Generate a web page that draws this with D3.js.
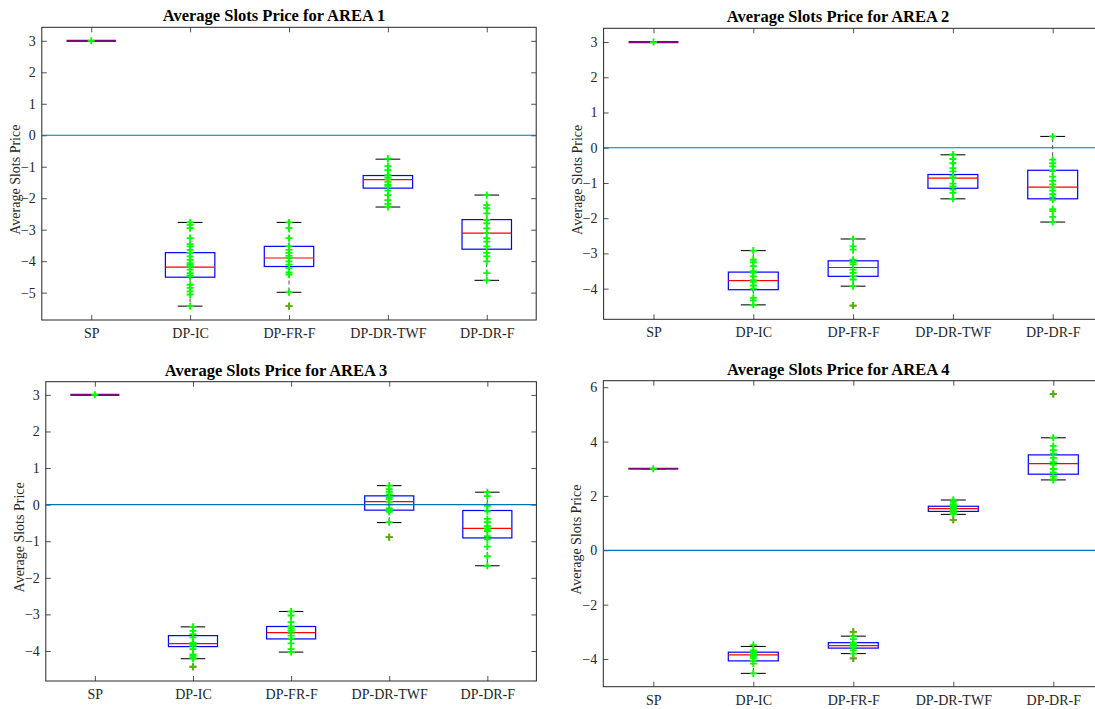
<!DOCTYPE html>
<html>
<head>
<meta charset="utf-8">
<script src="https://cdn.jsdelivr.net/npm/d3@7"></script>
<style>
  body { margin: 0; background: #fff; overflow: hidden; }
  text { font-family: "Liberation Serif", "Times New Roman", serif; }
</style>
</head>
<body>
<div id="chart"></div>
<script>
// Categories on the x axis (same for every area)
var groups = ["SP", "DP-IC", "DP-FR-F", "DP-DR-TWF", "DP-DR-F"];

// Box statistics per group: [lower whisker, q1, median, q3, upper whisker]
var area1Stats = [[3, 3, 3, 3, 3], [-5.43, -4.51, -4.19, -3.73, -2.77], [-4.99, -4.17, -3.90, -3.53, -2.77], [-2.28, -1.68, -1.41, -1.28, -0.76], [-4.61, -3.62, -3.11, -2.68, -1.90]];
var area2Stats = [[3, 3, 3, 3, 3], [-4.46, -4.03, -3.77, -3.53, -2.92], [-3.93, -3.65, -3.40, -3.21, -2.59], [-1.45, -1.15, -0.86, -0.76, -0.20], [-2.11, -1.45, -1.12, -0.64, 0.32]];
var area3Stats = [[3, 3, 3, 3, 3], [-4.21, -3.88, -3.80, -3.58, -3.34], [-4.03, -3.67, -3.50, -3.33, -2.92], [-0.49, -0.15, 0.08, 0.24, 0.52], [-1.67, -0.91, -0.65, -0.16, 0.34]];
var area4Stats = [[3, 3, 3, 3, 3], [-4.53, -4.07, -3.85, -3.75, -3.54], [-3.80, -3.60, -3.51, -3.40, -3.16], [1.32, 1.43, 1.53, 1.62, 1.85], [2.59, 2.80, 3.19, 3.51, 4.14]];

// Sample values (green markers) per group
var area1Values = [
  [3],
  [-2.77, -2.85, -2.95, -3.27, -3.46, -3.53, -3.64, -3.74, -3.85, -3.96, -4.06, -4.12, -4.17, -4.27, -4.38, -4.45, -4.48, -4.75, -4.85, -4.96, -5.06, -5.43],
  [-2.77, -2.95, -3.27, -3.53, -3.64, -3.74, -3.83, -3.90, -4.01, -4.11, -4.22, -4.36, -4.43, -4.99],
  [-0.74, -0.98, -1.11, -1.27, -1.34, -1.40, -1.48, -1.58, -1.65, -1.76, -1.90, -2.06, -2.18, -2.28],
  [-1.90, -2.22, -2.32, -2.48, -2.69, -2.80, -2.96, -3.11, -3.27, -3.38, -3.53, -3.74, -3.85, -4.01, -4.38, -4.61]
];
var area2Values = [
  [3],
  [-2.92, -3.18, -3.25, -3.36, -3.50, -3.55, -3.65, -3.76, -3.81, -3.91, -4.00, -4.26, -4.33, -4.46],
  [-2.59, -2.80, -2.89, -3.18, -3.25, -3.31, -3.46, -3.55, -3.65, -3.74, -3.93],
  [-0.19, -0.32, -0.44, -0.58, -0.67, -0.79, -0.86, -1.02, -1.10, -1.19, -1.28, -1.45],
  [0.32, -0.34, -0.44, -0.53, -0.66, -0.82, -0.94, -1.04, -1.13, -1.22, -1.32, -1.41, -1.48, -1.74, -1.80, -1.96, -2.11]
];
var area3Values = [
  [3],
  [-3.34, -3.45, -3.54, -3.63, -3.77, -3.81, -3.86, -3.95, -4.09, -4.13, -4.18, -4.21],
  [-2.92, -3.03, -3.21, -3.33, -3.39, -3.45, -3.51, -3.58, -3.66, -3.79, -3.95, -4.03],
  [0.52, 0.42, 0.35, 0.28, 0.20, 0.15, 0.08, 0.00, -0.10, -0.17, -0.20, -0.48],
  [0.34, 0.23, -0.03, -0.18, -0.39, -0.48, -0.59, -0.66, -0.72, -0.86, -0.95, -1.15, -1.41, -1.67]
];
var area4Values = [
  [3],
  [-3.49, -3.68, -3.76, -3.82, -3.89, -3.97, -4.07, -4.17, -4.53],
  [-3.16, -3.27, -3.40, -3.46, -3.52, -3.58, -3.68, -3.80],
  [1.86, 1.78, 1.70, 1.62, 1.56, 1.50, 1.45, 1.40, 1.33],
  [4.14, 3.84, 3.68, 3.56, 3.40, 3.24, 3.15, 2.99, 2.87, 2.72, 2.62, 2.59]
];

// Outliers per group
var area1Outliers = [[], [], [-5.43], [], []];
var area2Outliers = [[], [], [-4.48], [], []];
var area3Outliers = [[], [-4.43], [], [-0.89], []];
var area4Outliers = [[], [], [-3.00, -3.98], [1.12], [5.75]];

// y tick labels and y limits
var area1Ticks = [-5, -4, -3, -2, -1, 0, 1, 2, 3];
var area2Ticks = [-4, -3, -2, -1, 0, 1, 2, 3];
var area3Ticks = [-4, -3, -2, -1, 0, 1, 2, 3];
var area4Ticks = [-4, -2, 0, 2, 4, 6];
var area1Limits = [-5.87, 3.43];
var area2Limits = [-4.87, 3.39];
var area3Limits = [-4.82, 3.36];
var area4Limits = [-5.02, 6.24];

var svgWidth = 1095;
var svgHeight = 709;

var svg = d3.select("#chart")
  .append("svg")
  .attr("width", svgWidth)
  .attr("height", svgHeight);

// axes frames (pixel boxes of each subplot)
var panels = [
  { title: "Average Slots Price for AREA 1", stats: area1Stats, values: area1Values, outliers: area1Outliers, ticks: area1Ticks, limits: area1Limits, left: 41.8, right: 536.2, top: 27.3, bottom: 320 },
  { title: "Average Slots Price for AREA 2", stats: area2Stats, values: area2Values, outliers: area2Outliers, ticks: area2Ticks, limits: area2Limits, left: 603.6, right: 1102.6, top: 28.3, bottom: 319.3 },
  { title: "Average Slots Price for AREA 3", stats: area3Stats, values: area3Values, outliers: area3Outliers, ticks: area3Ticks, limits: area3Limits, left: 45.8, right: 536.4, top: 381.7, bottom: 681 },
  { title: "Average Slots Price for AREA 4", stats: area4Stats, values: area4Values, outliers: area4Outliers, ticks: area4Ticks, limits: area4Limits, left: 603.3, right: 1103.3, top: 380.7, bottom: 686.7 }
];

var axisColor = "#262626";
var plusPath = "M-3.5,0H3.5M0,-3.5V3.5";

function drawPanel(p) {
  var g = svg.append("g");

  var x = d3.scalePoint()
    .domain(groups)
    .range([p.left, p.right])
    .padding(0.5);
  var y = d3.scaleLinear()
    .domain(p.limits)
    .range([p.bottom, p.top]);

  var boxW = x.step() * 0.5;
  var capW = boxW * 0.5;

  // axes: ticks point inward on all four sides
  g.append("g")
    .attr("transform", `translate(${p.left},0)`)
    .call(d3.axisLeft(y).tickValues(p.ticks).tickSizeInner(-5).tickSizeOuter(0).tickPadding(6));
  g.append("g")
    .attr("transform", `translate(${p.right},0)`)
    .call(d3.axisRight(y).tickValues(p.ticks).tickSizeInner(-5).tickSizeOuter(0).tickFormat(""));
  g.append("g")
    .attr("transform", `translate(0,${p.bottom})`)
    .call(d3.axisBottom(x).tickSizeInner(-5).tickSizeOuter(0).tickPadding(8));
  g.append("g")
    .attr("transform", `translate(0,${p.top})`)
    .call(d3.axisTop(x).tickSizeInner(-5).tickSizeOuter(0).tickFormat(""));

  g.selectAll(".domain").remove();
  g.selectAll(".tick line").attr("stroke", axisColor).attr("stroke-width", 0.8);
  g.selectAll(".tick text")
    .attr("fill", axisColor)
    .attr("font-family", null)
    .style("font-size", "14px")
    .style("font-family", "'Liberation Serif', serif");

  // axes box
  g.append("rect")
    .attr("x", p.left)
    .attr("y", p.top)
    .attr("width", p.right - p.left)
    .attr("height", p.bottom - p.top)
    .attr("fill", "none")
    .attr("stroke", axisColor)
    .attr("stroke-width", 1);

  var boxes = g.selectAll(".box")
    .data(p.stats)
    .enter()
    .append("g")
    .attr("transform", (d, i) => `translate(${x(groups[i])},0)`);

  // dashed whiskers
  boxes.append("line")
    .attr("x1", 0).attr("x2", 0)
    .attr("y1", d => y(d[3])).attr("y2", d => y(d[4]))
    .attr("stroke", "#000").attr("stroke-width", 0.7).attr("stroke-dasharray", "4,3");
  boxes.append("line")
    .attr("x1", 0).attr("x2", 0)
    .attr("y1", d => y(d[1])).attr("y2", d => y(d[0]))
    .attr("stroke", "#000").attr("stroke-width", 0.7).attr("stroke-dasharray", "4,3");

  // whisker caps
  boxes.append("line")
    .attr("x1", -capW / 2).attr("x2", capW / 2)
    .attr("y1", d => y(d[4])).attr("y2", d => y(d[4]))
    .attr("stroke", "#111").attr("stroke-width", 1.1);
  boxes.append("line")
    .attr("x1", -capW / 2).attr("x2", capW / 2)
    .attr("y1", d => y(d[0])).attr("y2", d => y(d[0]))
    .attr("stroke", "#111").attr("stroke-width", 1.1);

  // box
  boxes.append("rect")
    .attr("x", -boxW / 2)
    .attr("y", d => y(d[3]))
    .attr("width", boxW)
    .attr("height", d => y(d[1]) - y(d[3]))
    .attr("fill", "none")
    .attr("stroke", "#0000ff")
    .attr("stroke-width", 1.2);

  // median (collapsed box: blue and red blend to purple)
  boxes.append("line")
    .attr("x1", -boxW / 2).attr("x2", boxW / 2)
    .attr("y1", d => y(d[2])).attr("y2", d => y(d[2]))
    .attr("stroke", d => (d[3] - d[1] < 1e-6) ? "#7a0a7a" : "#ff0000")
    .attr("stroke-width", d => (d[3] - d[1] < 1e-6) ? 2.2 : 1.2);

  // outliers: red plus under the green sample marker
  var outPts = [];
  p.outliers.forEach(function (list, i) {
    list.forEach(function (v) { outPts.push({ g: groups[i], v: v }); });
  });
  g.selectAll(".outRed")
    .data(outPts)
    .enter()
    .append("path")
    .attr("d", plusPath)
    .attr("transform", d => `translate(${x(d.g)},${y(d.v)})`)
    .attr("stroke", "#ff0000")
    .attr("stroke-width", 1.8)
    .attr("fill", "none");
  g.selectAll(".outGreen")
    .data(outPts)
    .enter()
    .append("path")
    .attr("d", plusPath)
    .attr("transform", d => `translate(${x(d.g)},${y(d.v)})`)
    .attr("stroke", "#00ff00")
    .attr("stroke-opacity", 0.75)
    .attr("stroke-width", 1.8)
    .attr("fill", "none");

  // sample markers
  var pts = [];
  p.values.forEach(function (list, i) {
    list.forEach(function (v) { pts.push({ g: groups[i], v: v }); });
  });
  g.selectAll(".pt")
    .data(pts)
    .enter()
    .append("path")
    .attr("d", plusPath)
    .attr("transform", d => `translate(${x(d.g)},${y(d.v)})`)
    .attr("stroke", "#00ff00")
    .attr("stroke-width", 1.8)
    .attr("fill", "none");

  // zero reference line
  g.append("line")
    .attr("x1", p.left).attr("x2", p.right)
    .attr("y1", y(0)).attr("y2", y(0))
    .attr("stroke", "#0072BD")
    .attr("stroke-width", 1.2);

  // title
  g.append("text")
    .attr("x", (p.left + p.right) / 2 - 15)
    .attr("y", p.top - 6)
    .attr("text-anchor", "middle")
    .style("font-size", "16.5px")
    .style("font-weight", "bold")
    .attr("fill", "#000")
    .text(p.title);

  // y label
  g.append("text")
    .attr("transform", `translate(${p.left - 22},${(p.top + p.bottom) / 2 + 6}) rotate(-90)`)
    .attr("text-anchor", "middle")
    .style("font-size", "14px")
    .attr("fill", axisColor)
    .text("Average Slots Price");
}

panels.forEach(drawPanel);
</script>
</body>
</html>
